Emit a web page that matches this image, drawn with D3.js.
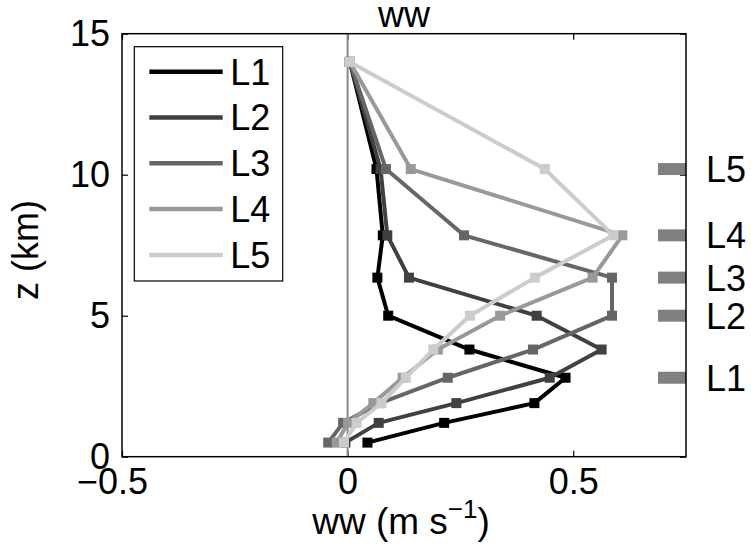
<!DOCTYPE html>
<html>
<head>
<meta charset="utf-8">
<script src="https://cdn.jsdelivr.net/npm/d3@7"></script>
<style>
  body { margin: 0; background: #fff; }
  text { font-family: "Liberation Sans", Arial, sans-serif; }
</style>
</head>
<body>
<svg id="chart" width="751" height="553"></svg>
<script>
// heights (km) shared by all profiles
const heights = [0.5, 1.2, 1.9, 2.8, 3.8, 5.0, 6.35, 7.85, 10.2, 14.0];

const L1 = [0.044, 0.214, 0.414, 0.483, 0.270, 0.090, 0.066, 0.078, 0.064, 0.005];
const L2 = [-0.005, 0.069, 0.241, 0.448, 0.563, 0.419, 0.136, 0.088, 0.073, 0.005];
const L3 = [-0.043, -0.010, 0.072, 0.222, 0.411, 0.586, 0.586, 0.258, 0.085, 0.005];
const L4 = [-0.024, 0.001, 0.057, 0.122, 0.200, 0.338, 0.543, 0.609, 0.140, 0.005];
const L5 = [-0.008, 0.020, 0.075, 0.129, 0.190, 0.271, 0.415, 0.589, 0.437, 0.005];

const seriesNames = ['L1', 'L2', 'L3', 'L4', 'L5'];
const seriesColors = ['#000000', '#404040', '#666666', '#999999', '#cccccc'];

// level markers on the right edge
const levelNames = ['L1', 'L2', 'L3', 'L4', 'L5'];
const levelHeights = [2.8, 5.0, 6.35, 7.85, 10.2];

const xTicks = [-0.5, 0, 0.5];
const yTicks = [0, 5, 10, 15];

const FS = '36px';

const svg = d3.select('#chart');
const margin = { top: 33.7, right: 65, bottom: 96.3, left: 122 };
const width = 751 - margin.left - margin.right;
const height = 553 - margin.top - margin.bottom;

const xScale = d3.scaleLinear().domain([-0.5, 0.75]).range([0, width]);
const yScale = d3.scaleLinear().domain([0, 15]).range([height, 0]);

const g = svg.append('g')
  .attr('transform', 'translate(' + margin.left + ',' + margin.top + ')');

const fmt = d => d === 0 ? '0' : d3.format('.1f')(d).replace('-', '\u2212');

// axes with inward ticks
const tickLen = 6;
let xb = g.append('g').attr('transform', 'translate(0,' + height + ')')
  .call(d3.axisBottom(xScale).tickValues(xTicks).tickSizeInner(-tickLen).tickSizeOuter(0).tickPadding(12).tickFormat(fmt));
let xt = g.append('g')
  .call(d3.axisTop(xScale).tickValues(xTicks).tickSizeInner(-tickLen).tickSizeOuter(0).tickFormat(''));
let yl = g.append('g')
  .call(d3.axisLeft(yScale).tickValues(yTicks).tickSizeInner(-tickLen).tickSizeOuter(0).tickPadding(12).tickFormat(d3.format('d')));
let yr = g.append('g').attr('transform', 'translate(' + width + ',0)')
  .call(d3.axisRight(yScale).tickValues(yTicks).tickSizeInner(-tickLen).tickSizeOuter(0).tickFormat(''));

[xb, xt, yl, yr].forEach(a => {
  a.select('.domain').remove();
  a.selectAll('line').attr('stroke', '#000').attr('stroke-width', 1.2);
  a.selectAll('text').attr('fill', '#000').style('font-size', FS)
    .style('font-family', '"Liberation Sans", Arial, sans-serif');
});
// negative labels centred on the digits, minus sign hanging left
xb.selectAll('text').attr('dy', '0.71em')
  .attr('dx', d => d < 0 ? -10 : 0);

// zero line
g.append('line')
  .attr('x1', xScale(0)).attr('x2', xScale(0))
  .attr('y1', 0).attr('y2', height)
  .attr('stroke', '#888').attr('stroke-width', 2);

// right level bars
g.selectAll('.lvl').data(levelHeights)
  .enter().append('line')
  .attr('class', 'lvl')
  .attr('x1', xScale(0.688)).attr('x2', xScale(0.75))
  .attr('y1', d => yScale(d)).attr('y2', d => yScale(d))
  .attr('stroke', '#808080').attr('stroke-width', 12);

g.selectAll('.lvlText').data(levelHeights)
  .enter().append('text')
  .attr('class', 'lvlText')
  .attr('x', width + 20)
  .attr('y', d => yScale(d))
  .attr('dy', '0.36em')
  .style('font-size', FS)
  .text((d, i) => levelNames[i]);

// profiles
const allSeries = [L1, L2, L3, L4, L5];
const line = d3.line()
  .x(d => xScale(d[0]))
  .y(d => yScale(d[1]));

allSeries.forEach((vals, k) => {
  const pts = vals.map((v, i) => [v, heights[i]]);
  g.append('path')
    .datum(pts)
    .attr('d', line)
    .attr('fill', 'none')
    .attr('stroke', seriesColors[k])
    .attr('stroke-width', 4)
    .attr('stroke-linejoin', 'round');
  g.selectAll('.m' + k).data(pts)
    .enter().append('rect')
    .attr('class', 'm' + k)
    .attr('x', d => xScale(d[0]) - 5)
    .attr('y', d => yScale(d[1]) - 5)
    .attr('width', 10).attr('height', 10)
    .attr('fill', seriesColors[k]);
});

// box
g.append('rect')
  .attr('x', 0).attr('y', 0)
  .attr('width', width).attr('height', height)
  .attr('fill', 'none').attr('stroke', '#000').attr('stroke-width', 1.5);

// legend
const leg = g.append('g').attr('transform', 'translate(12.3,13)');
leg.append('rect')
  .attr('x', 0).attr('y', 0).attr('width', 148.4).attr('height', 234.3)
  .attr('fill', '#fff').attr('stroke', '#000').attr('stroke-width', 1.2);
seriesNames.forEach((name, i) => {
  const yy = 25 + i * 45.8;
  leg.append('line')
    .attr('x1', 15).attr('x2', 88.4)
    .attr('y1', yy).attr('y2', yy)
    .attr('stroke', seriesColors[i]).attr('stroke-width', 4.5);
  leg.append('text')
    .attr('x', 96).attr('y', yy).attr('dy', '0.36em')
    .style('font-size', FS)
    .text(name);
});

// title and axis labels
svg.append('text')
  .attr('x', margin.left + width / 2).attr('y', 27)
  .attr('text-anchor', 'middle')
  .style('font-size', FS)
  .text('ww');

const xl = svg.append('text')
  .attr('x', 401).attr('y', 534)
  .attr('text-anchor', 'middle')
  .style('font-size', '37px');
xl.append('tspan').text('ww (m s');
xl.append('tspan').attr('dy', -16).style('font-size', '26px').text('\u22121');
xl.append('tspan').attr('dy', 16).text(')');

svg.append('text')
  .attr('transform', 'translate(38,250) rotate(-90)')
  .attr('text-anchor', 'middle')
  .style('font-size', FS)
  .text('z (km)');
</script>
</body>
</html>
